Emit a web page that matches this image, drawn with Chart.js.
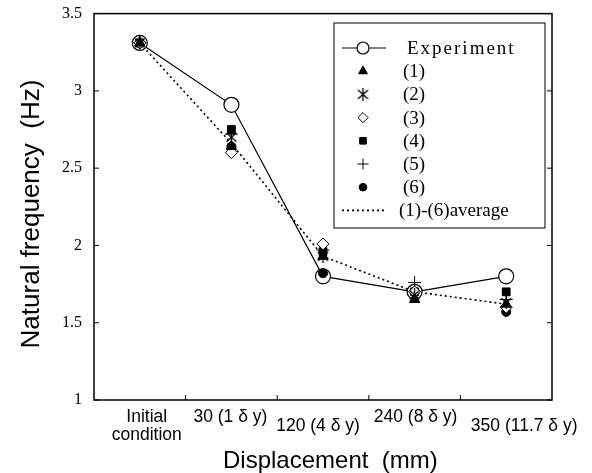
<!DOCTYPE html>
<html>
<head>
<meta charset="utf-8">
<script src="https://cdn.jsdelivr.net/npm/chart.js@4/dist/chart.umd.min.js"></script>
<style>body{margin:0;background:#fff}</style>
</head>
<body>
<canvas id="chart" width="592" height="473"></canvas>
<script>
// data
const categories = ["Initial condition", "30 (1 δ y)", "120 (4 δ y)", "240 (8 δ y)", "350 (11.7 δ y)"];
const tickLabels = [["Initial", "condition"], ["30 (1 δ y)"], ["120 (4 δ y)"], ["240 (8 δ y)"], ["350 (11.7 δ y)"]];
const experiment = [3.31, 2.91, 1.80, 1.70, 1.80];
const case1 = [3.31, 2.64, 1.93, 1.65, 1.62];
const case2 = [3.31, 2.70, 1.93, 1.68, 1.63];
const case3 = [3.31, 2.60, 2.01, 1.70, 1.60];
const case4 = [3.31, 2.75, 1.96, 1.70, 1.70];
const case5 = [3.31, 2.72, 1.97, 1.76, 1.65];
const case6 = [3.31, 2.64, 1.82, 1.70, 1.57];
const average = [3.31, 2.66, 1.93, 1.70, 1.62];
const legendLabels = ["Experiment", "(1)", "(2)", "(3)", "(4)", "(5)", "(6)", "(1)-(6)average"];

// label layout (x shift, y shift) for the staggered category labels
const labelShift = [[7, 0], [-1, 0], [-5, 9], [1, 0], [18, 9]];

// asterisk-like marker: X with a vertical bar
function asterisk() {
  const c = document.createElement('canvas');
  c.width = 13; c.height = 13;
  const g = c.getContext('2d');
  g.strokeStyle = '#000'; g.lineWidth = 1.3;
  g.beginPath();
  g.moveTo(1.5, 2); g.lineTo(11.5, 11);
  g.moveTo(11.5, 2); g.lineTo(1.5, 11);
  g.moveTo(6.5, 0); g.lineTo(6.5, 13);
  g.stroke();
  return c;
}

const pts = (data, style, r, fill) => ({
  data, showLine: false, pointStyle: style, pointRadius: r,
  pointBackgroundColor: fill, pointBorderColor: '#000', pointBorderWidth: 1, order: 1
});

const datasets = [
  { data: experiment, borderColor: '#000', borderWidth: 1.2, pointStyle: 'circle', pointRadius: 7.5,
    pointBackgroundColor: '#fff', pointBorderColor: '#000', pointBorderWidth: 1.2, order: 5, legendLine: 'solid' },
  pts(case1, 'triangle', 6, '#000'),
  pts(case2, asterisk(), 6, '#000'),
  pts(case3, 'rectRot', 6, '#fff'),
  pts(case4, 'rect', 5.5, '#000'),
  pts(case5, 'cross', 6.5, '#000'),
  pts(case6, 'circle', 4.5, '#000'),
  { data: average, borderColor: '#000', borderWidth: 1.6, borderDash: [2, 3], pointRadius: 0, order: 6, legendLine: 'dot' }
];

const frame = {
  id: 'frame',
  afterDraw(chart) {
    const { ctx, chartArea: a, scales: { x, y } } = chart;
    ctx.save();
    ctx.strokeStyle = '#000';
    ctx.lineWidth = 1.5;
    ctx.strokeRect(a.left, a.top, a.right - a.left, a.bottom - a.top);
    ctx.lineWidth = 1;
    ctx.beginPath();
    y.ticks.forEach(t => {
      const py = y.getPixelForValue(t.value);
      ctx.moveTo(a.left, py); ctx.lineTo(a.left + 5, py);
      ctx.moveTo(a.right, py); ctx.lineTo(a.right - 5, py);
    });
    for (let i = 1; i < categories.length; i++) {
      const px = (x.getPixelForValue(i - 1) + x.getPixelForValue(i)) / 2;
      ctx.moveTo(px, a.bottom); ctx.lineTo(px, a.bottom - 5);
    }
    ctx.stroke();

    // category labels
    ctx.fillStyle = '#000';
    ctx.font = '17.5px "Liberation Sans", Arial, sans-serif';
    ctx.textAlign = 'center';
    ctx.textBaseline = 'top';
    tickLabels.forEach((lines, i) => {
      const px = x.getPixelForValue(i) + labelShift[i][0];
      lines.forEach((s, k) => ctx.fillText(s, px, a.bottom + 8 + labelShift[i][1] + k * 18));
    });
    // axis title
    ctx.font = '24px "Liberation Sans", Arial, sans-serif';
    ctx.textBaseline = 'alphabetic';
    ctx.textAlign = 'left';
    ctx.fillText('Displacement  (mm)', 223, 468);

    // legend box
    const lx = 334, ly = 23, lw = 211, lh = 205;
    ctx.lineWidth = 1;
    ctx.fillStyle = '#fff';
    ctx.fillRect(lx, ly, lw, lh);
    ctx.strokeRect(lx, ly, lw, lh);
    ctx.textAlign = 'left';
    ctx.textBaseline = 'middle';
    ctx.font = '19px "Liberation Serif", "Times New Roman", serif';
    chart.data.datasets.forEach((ds, i) => {
      const cy = 48 + i * 23.2;
      ctx.fillStyle = '#000';
      ctx.strokeStyle = '#000';
      if (ds.legendLine) {
        ctx.lineWidth = ds.borderWidth;
        ctx.setLineDash(ds.borderDash || []);
        ctx.beginPath(); ctx.moveTo(342, cy); ctx.lineTo(386, cy); ctx.stroke();
        ctx.setLineDash([]);
      }
      if (ds.pointRadius > 0) {
        ctx.fillStyle = ds.pointBackgroundColor;
        ctx.lineWidth = ds.pointBorderWidth;
        const r = ds.legendLine ? 6 : ds.pointRadius * 0.85;
        Chart.helpers.drawPoint(ctx, { pointStyle: ds.pointStyle, radius: r, rotation: 0, borderWidth: ds.pointBorderWidth }, 363, cy);
      }
      ctx.fillStyle = '#000';
      ctx.letterSpacing = i === 0 ? '2px' : '0px';
      ctx.fillText(legendLabels[i], i === 0 ? 407 : (i === 7 ? 399 : 403), cy + 1);
    });
    ctx.restore();
  }
};

new Chart(document.getElementById('chart'), {
  type: 'line',
  data: { labels: categories, datasets },
  options: {
    responsive: false,
    animation: false,
    layout: { padding: { top: 11, right: 40, left: 0, bottom: 0 } },
    plugins: { legend: { display: false }, tooltip: { enabled: false } },
    scales: {
      x: {
        type: 'category', offset: true,
        grid: { display: false },
        border: { display: false },
        ticks: { display: false },
        afterFit: s => { s.height = 73; }
      },
      y: {
        min: 1, max: 3.5,
        grid: { display: false },
        border: { display: false },
        ticks: { stepSize: 0.5, color: '#000', padding: 4, callback: v => String(v),
          font: { family: '"Liberation Serif", "Times New Roman", serif', size: 16 } },
        title: { display: true, text: 'Natural frequency  (Hz)  ', color: '#000',
          font: { family: '"Liberation Sans", Arial, sans-serif', size: 26 }, padding: { top: 16, bottom: 0 } },
        afterFit: s => { s.width = 94; }
      }
    }
  },
  plugins: [frame]
});
</script>
</body>
</html>
